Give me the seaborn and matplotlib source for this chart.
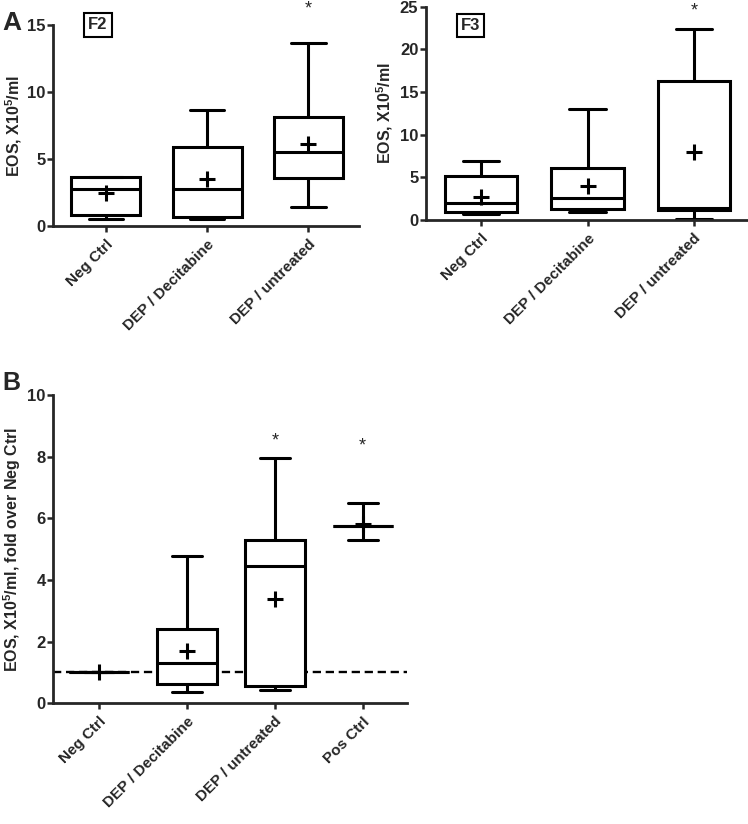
import pandas as pd
import seaborn as sns
import matplotlib.pyplot as plt

# categories
groups_a = ["Neg Ctrl", "DEP / Decitabine", "DEP / untreated"]
groups_b = ["Neg Ctrl", "DEP / Decitabine", "DEP / untreated", "Pos Ctrl"]

# values: min, Q1, median, Q3, max per group
f2_neg = [0.50, 0.85, 2.78, 3.65, 3.66]
f2_dec = [0.50, 0.66, 2.78, 5.87, 8.66]
f2_unt = [1.43, 3.56, 5.52, 8.16, 13.63]
f2_means = [2.46, 3.52, 6.12]

f3_neg = [0.68, 0.93, 2.00, 5.20, 6.88]
f3_dec = [0.93, 1.31, 2.54, 6.09, 12.97]
f3_unt = [0.08, 1.13, 1.45, 16.33, 22.35]
f3_means = [2.73, 4.02, 8.00]

b_neg = [1.00, 1.00, 1.00, 1.00, 1.00]
b_dec = [0.36, 0.62, 1.32, 2.42, 4.77]
b_unt = [0.42, 0.57, 4.45, 5.30, 7.97]
b_pos = [5.29, 5.75, 5.75, 5.75, 6.50]
b_means = [1.00, 1.70, 3.39, 5.80]
b_baseline = 1.0

sns.set_style("ticks")
plt.rcParams['font.family'] = ['Liberation Sans', 'DejaVu Sans']
plt.rcParams['font.weight'] = 'bold'
plt.rcParams['axes.labelweight'] = 'bold'
plt.rcParams['mathtext.fontset'] = 'custom'
plt.rcParams['mathtext.rm'] = 'Liberation Sans'
plt.rcParams['mathtext.bf'] = 'Liberation Sans:bold'
plt.rcParams['mathtext.default'] = 'bf'


def long_df(groups, series):
    rows = [(g, v) for g, vals in zip(groups, series) for v in vals]
    return pd.DataFrame(rows, columns=["group", "eos"])


def draw_panel(ax, groups, series, means, ymax, ystep, ylabel):
    df = long_df(groups, series)
    sns.boxplot(data=df, x="group", y="eos", order=groups, whis=(0, 100),
                showfliers=False, width=0.68, color="white", saturation=1,
                linecolor="black", linewidth=2.2, ax=ax)
    sns.pointplot(x=groups, y=means, order=groups, linestyle="none", marker="+",
                  markersize=12, markeredgewidth=2.2, color="black",
                  errorbar=None, ax=ax, zorder=5)
    ax.set_xlim(-0.52, len(groups) - 0.5)
    ax.set_ylim(0, ymax)
    ax.set_yticks(range(0, ymax + 1, ystep))
    ax.set_xlabel("")
    ax.set_ylabel(ylabel, fontsize=11.5)
    ax.yaxis.set_label_coords(-0.095, 0.5)
    sns.despine(ax=ax)
    for s in ["left", "bottom"]:
        ax.spines[s].set_linewidth(2.0)
    ax.tick_params(width=1.8, length=4.5, labelsize=12)
    ax.tick_params(axis="y", pad=1)
    plt.setp(ax.get_xticklabels(), rotation=45, ha="right",
             rotation_mode="anchor", fontsize=11, fontweight="bold")


fig = plt.figure(figsize=(7.48, 8.24), dpi=100)
ax1 = fig.add_axes([0.071, 0.7257, 0.409, 0.244])
ax2 = fig.add_axes([0.5695, 0.733, 0.4292, 0.2589])
ax3 = fig.add_axes([0.0713, 0.1465, 0.4724, 0.3741])

ylab = r"EOS, X10$^5$/ml"
draw_panel(ax1, groups_a, [f2_neg, f2_dec, f2_unt], f2_means, 15, 5, ylab)
draw_panel(ax2, groups_a, [f3_neg, f3_dec, f3_unt], f3_means, 25, 5, ylab)
ax3.axhline(b_baseline, color="black", ls=(0, (3.5, 2)), lw=1.7, zorder=1)
draw_panel(ax3, groups_b, [b_neg, b_dec, b_unt, b_pos], b_means, 10, 2,
           r"EOS, X10$^5$/ml, fold over Neg Ctrl")
ax3.yaxis.set_label_coords(-0.085, 0.5)

box = dict(boxstyle="square,pad=0.25", fc="white", ec="black", lw=1.5)
ax1.text(-0.08, 15, "F2", ha="center", va="center", fontsize=12, bbox=box, clip_on=False)
ax2.text(-0.10, 22.8, "F3", ha="center", va="center", fontsize=12, bbox=box, clip_on=False)

star = dict(ha="center", va="center", fontsize=13, fontweight="normal", clip_on=False)
ax1.text(2, 16.2, "*", **star)
ax2.text(2, 24.5, "*", **star)
ax3.text(2, 8.5, "*", **star)
ax3.text(3, 8.35, "*", **star)

fig.text(0.003, 0.9636, "A", fontsize=19, fontweight="bold")
fig.text(0.003, 0.5267, "B", fontsize=18, fontweight="bold")

fig.savefig("out.png", dpi=100)
